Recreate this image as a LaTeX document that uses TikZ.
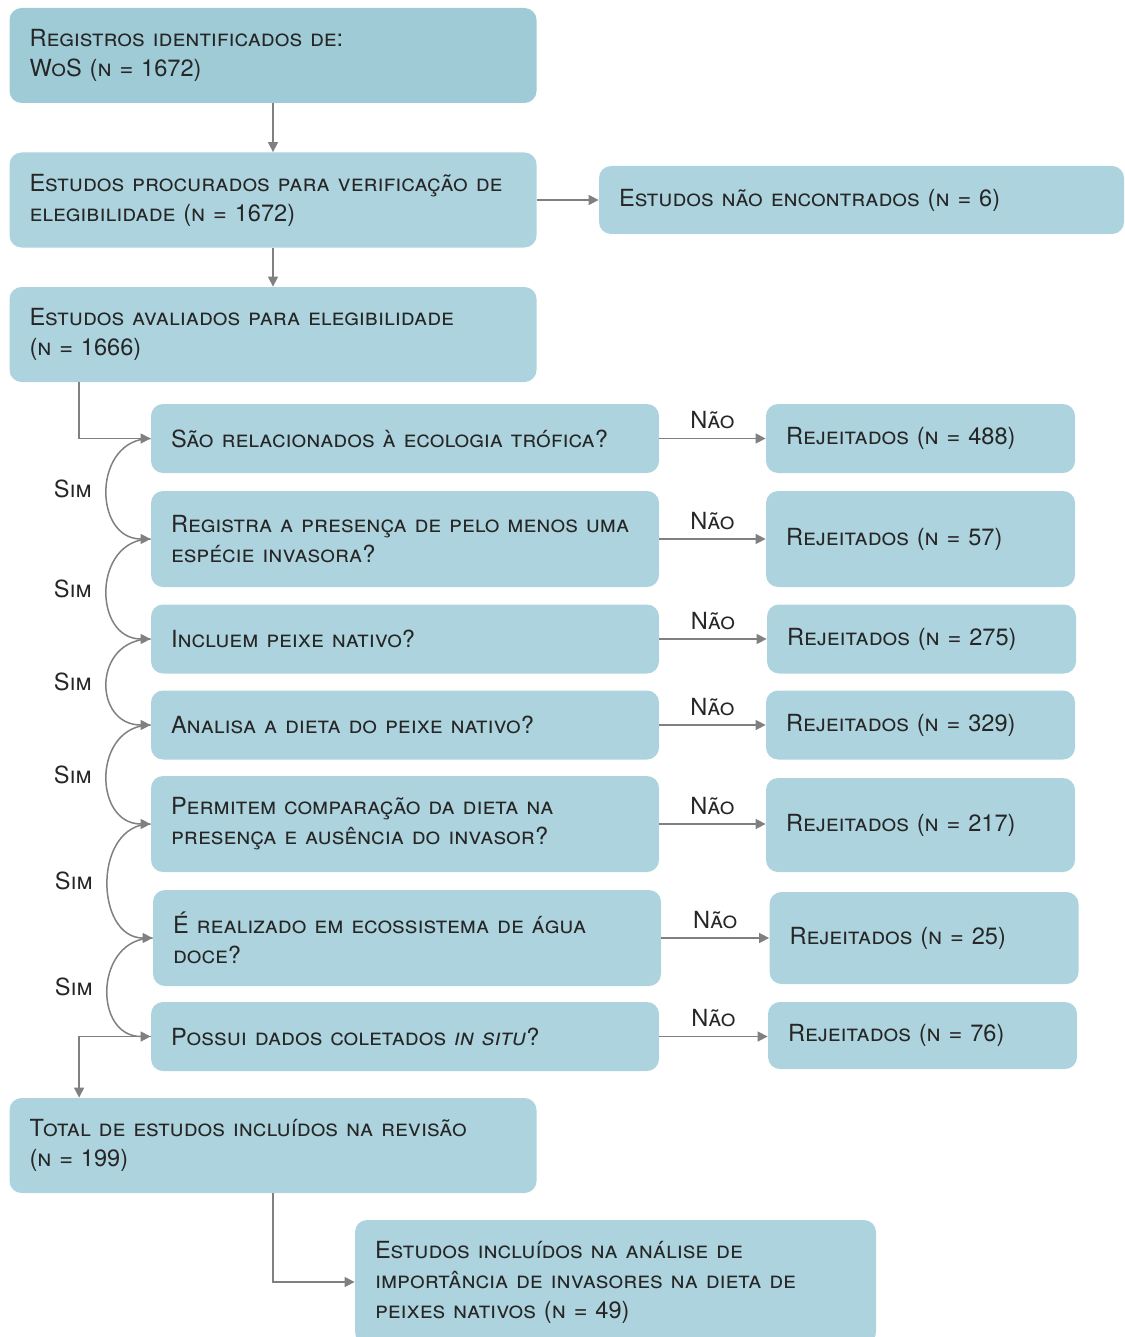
\documentclass[tikz,border=0pt]{standalone}
\usepackage{fontspec}
\setmainfont{TeX Gyre Heros}
\usepackage{xcolor}
\usepackage{tikz}
\usetikzlibrary{positioning, arrows.meta, calc}

\definecolor{boxtop}{RGB}{158,203,214}
\definecolor{boxfill}{RGB}{173,212,222}
\definecolor{txt}{RGB}{38,38,38}
\definecolor{arrowgray}{RGB}{128,128,128}

\begin{document}
\begin{tikzpicture}[
x=0.5pt, y=-0.5pt,
    box/.style={rectangle, rounded corners=6pt, fill=boxfill, text=txt, align=left, inner xsep=10pt, inner ysep=3pt, font=\fontsize{11.8}{15}\selectfont\scshape},
    stage/.style={box, text width=243.5pt, minimum height=47.5pt},
    question/.style={box, text width=234pt, minimum height=34.5pt},
    reject/.style={box, text width=134.5pt, minimum height=34.5pt},
    arrow/.style={draw=arrowgray, line width=0.75pt, -{Triangle[length=5pt, width=5pt]}},
    lbl/.style={text=txt, font=\fontsize{11.8}{15}\selectfont\scshape}
]
    \useasboundingbox (0,0) rectangle (1124,1337);

    % --- Identification ---
    \node[stage, fill=boxtop] (reg) at (273, 55.5) {Registros identificados de:\\WoS (n = 1672)};
    \node[stage] (proc) at (273, 200) {Estudos procurados para verificação de\\elegibilidade (n = 1672)};
    \node[box, text width=242.5pt, minimum height=34pt] (notfound) at (861.5, 200) {Estudos não encontrados (n = 6)};
    \node[stage] (aval) at (273, 334.5) {Estudos avaliados para elegibilidade\\(n = 1666)};

    \draw[arrow] (reg) -- (proc);
    \draw[arrow] (proc) -- (aval);
    \draw[arrow] (proc) -- (notfound);

    % --- Screening questions ---
    \node[question] (q1) at (405, 438.5) {São relacionados à ecologia trófica?};
    \node[question, minimum height=48pt] (q2) at (405, 539) {Registra a presença de pelo menos uma\\espécie invasora?};
    \node[question] (q3) at (405, 639) {Incluem peixe nativo?};
    \node[question] (q4) at (405, 725) {Analisa a dieta do peixe nativo?};
    \node[question, minimum height=48pt] (q5) at (405, 824) {Permitem comparação da dieta na\\presença e ausência do invasor?};
    \node[question, minimum height=48pt] (q6) at (407, 938) {É realizado em ecossistema de água\\doce?};
    \node[question] (q7) at (405, 1036.5) {Possui dados coletados \textit{in situ}?};

    % -- Rejected --
    \node[reject] (r1) at (920.5, 438.5) {Rejeitados (n = 488)};
    \node[reject, minimum height=48pt] (r2) at (920.5, 539) {Rejeitados (n = 57)};
    \node[reject] (r3) at (921.5, 639) {Rejeitados (n = 275)};
    \node[reject] (r4) at (920.5, 725) {Rejeitados (n = 329)};
    \node[reject, minimum height=47pt] (r5) at (920.5, 825) {Rejeitados (n = 217)};
    \node[reject, minimum height=46pt] (r6) at (924, 938) {Rejeitados (n = 25)};
    \node[reject, minimum height=33.5pt] (r7) at (922.5, 1035.5) {Rejeitados (n = 76)};

    \draw[arrow] ([xshift=35pt]aval.south west) |- (q1.west);

    \foreach \i/\j in {1/2, 2/3, 3/4, 4/5, 5/6, 6/7}
        \draw[arrow] (q\i.west) to[out=180, in=180, distance=29pt] node[midway, lbl, left=4pt] {Sim} (q\j.west);

    \foreach \i in {1,...,7}
        \draw[arrow] (q\i.east) -- (r\i.west |- q\i.east) node[midway, lbl, above=1pt] {Não};

    % --- Inclusion ---
    \node[stage] (total) at (273, 1145.5) {Total de estudos incluídos na revisão\\(n = 199)};
    \node[box, text width=240.5pt, minimum height=62pt] (final) at (615.5, 1282) {Estudos incluídos na análise de\\importância de invasores na dieta de\\peixes nativos (n = 49)};

    \draw[arrow] (q7.west) -| ([xshift=35pt]total.north west);
    \draw[arrow] (total.south) |- (final.west);

\end{tikzpicture}
\end{document}
